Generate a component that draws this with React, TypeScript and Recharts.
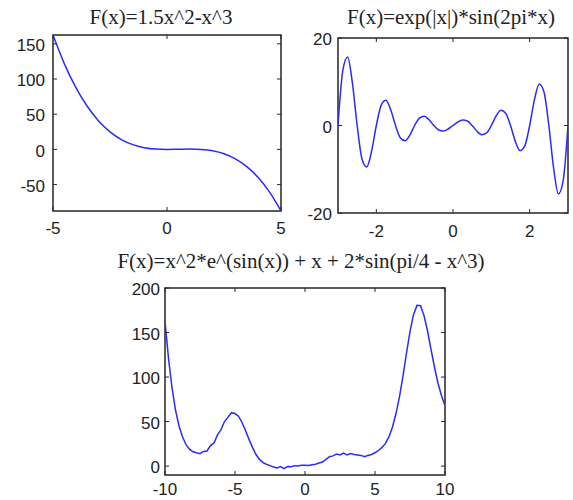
import React from 'react';
import { LineChart, Line, XAxis, YAxis, ReferenceArea } from 'recharts';

// ---------- Panel 1: F(x)=1.5x^2-x^3 ----------
const p1Title = 'F(x)=1.5x^2-x^3';
const p1X = [-5, -4.5, -4, -3.5, -3, -2.5, -2, -1.5, -1, -0.5, 0, 0.5, 1, 1.5, 2, 2.5, 3, 3.5, 4, 4.5, 5];
const p1Y = [162.5, 121.5, 88, 61.25, 40.5, 25, 14, 6.75, 2.5, 0.5, 0, 0.25, 0.5, 0, -2, -6.25, -13.5, -24.5, -40, -60.75, -87.5];
const p1XTicks = [-5, 0, 5];
const p1YTicks = [-50, 0, 50, 100, 150];

// ---------- Panel 2: F(x)=exp(|x|)*sin(2pi*x) ----------
const p2Title = 'F(x)=exp(|x|)*sin(2pi*x)';
const p2X = [
  -3, -2.875, -2.75, -2.625, -2.5, -2.375, -2.25, -2.125, -2, -1.875, -1.75, -1.625, -1.5, -1.375, -1.25, -1.125,
  -1, -0.875, -0.75, -0.625, -0.5, -0.375, -0.25, -0.125, 0, 0.125, 0.25, 0.375, 0.5, 0.625, 0.75, 0.875,
  1, 1.125, 1.25, 1.375, 1.5, 1.625, 1.75, 1.875, 2, 2.125, 2.25, 2.375, 2.5, 2.625, 2.75, 2.875, 3,
];
const p2Y = [
  0, 12.54, 15.64, 9.76, 0, -7.6, -9.49, -5.92, 0, 4.61, 5.76, 3.59, 0, -2.8, -3.49, -2.18,
  0, 1.7, 2.12, 1.32, 0, -1.03, -1.28, -0.8, 0, 0.8, 1.28, 1.03, 0, -1.32, -2.12, -1.7,
  0, 2.18, 3.49, 2.8, 0, -3.59, -5.76, -4.61, 0, 5.92, 9.49, 7.6, 0, -9.76, -15.64, -12.54, 0,
];
const p2XTicks = [-2, 0, 2];
const p2YTicks = [-20, 0, 20];

// ---------- Panel 3: F(x)=x^2*e^(sin(x)) + x + 2*sin(pi/4 - x^3) ----------
const p3Title = 'F(x)=x^2*e^(sin(x)) + x + 2*sin(pi/4 - x^3)';
const p3X = [
  -10, -9.75, -9.5, -9.25, -9, -8.75, -8.5, -8.25, -8, -7.75, -7.5, -7.25, -7, -6.75, -6.5, -6.25,
  -6, -5.75, -5.5, -5.25, -5, -4.75, -4.5, -4.25, -4, -3.75, -3.5, -3.25, -3, -2.75, -2.5, -2.25,
  -2, -1.75, -1.5, -1.25, -1, -0.75, -0.5, -0.25, 0, 0.25, 0.5, 0.75, 1, 1.25, 1.5, 1.75,
  2, 2.25, 2.5, 2.75, 3, 3.25, 3.5, 3.75, 4, 4.25, 4.5, 4.75, 5, 5.25, 5.5, 5.75,
  6, 6.25, 6.5, 6.75, 7, 7.25, 7.5, 7.75, 8, 8.25, 8.5, 8.75, 9, 9.25, 9.5, 9.75, 10,
];
const p3Y = [
  163, 121, 88, 63, 45, 33, 24, 19, 16, 15, 14, 16.5, 17, 23, 26, 35,
  41, 50, 55, 60, 59, 56, 49, 40, 30, 21, 13, 7.5, 4, 2, 0.5, -1,
  -2, -0.5, -2.8, -0.5, -0.8, 0.5, 0.2, 1, 1, 0.8, 1.5, 2, 3.5, 4.5, 7.5, 10.5,
  11.5, 13.5, 12.5, 14.5, 12.5, 14, 13, 12.5, 12, 10.5, 12, 13, 15, 17.5, 21, 25.5,
  33, 44, 59, 78, 101, 127, 151, 170, 180.5, 180, 169, 152, 131, 111, 93, 79, 68,
];
const p3XTicks = [-10, -5, 0, 5, 10];
const p3YTicks = [0, 50, 100, 150, 200];

const LINE = '#2a2aff';
const AXIS = '#262626';
const TICK_FONT = '"Liberation Sans", Arial, sans-serif';
const TITLE_FONT = '"Liberation Serif", "Times New Roman", serif';

type Box = { l: number; t: number; r: number; b: number };

type PanelProps = {
  left: number;
  top: number;
  width: number;
  height: number;
  box: Box;
  xs: number[];
  ys: number[];
  xDomain: [number, number];
  yDomain: [number, number];
  xTicks: number[];
  yTicks: number[];
  curve: 'monotone' | 'linear';
  xLabelDy: number;
  yLabelGap: number;
};

function Panel(p: PanelProps) {
  const { box } = p;
  const data = p.xs.map((x, i) => ({ x, y: p.ys[i] }));
  const xTick = (props: any) => {
    const { x, payload } = props;
    return (
      <g>
        <line x1={x} x2={x} y1={box.b} y2={box.b - 4} stroke={AXIS} strokeWidth={1} />
        <line x1={x} x2={x} y1={box.t} y2={box.t + 4} stroke={AXIS} strokeWidth={1} />
        <text x={x} y={box.b + p.xLabelDy} textAnchor="middle" fontFamily={TICK_FONT} fontSize={17} fill="#222">
          {payload.value}
        </text>
      </g>
    );
  };
  const yTick = (props: any) => {
    const { y, payload } = props;
    return (
      <g>
        <line x1={box.l} x2={box.l + 4} y1={y} y2={y} stroke={AXIS} strokeWidth={1} />
        <line x1={box.r - 4} x2={box.r} y1={y} y2={y} stroke={AXIS} strokeWidth={1} />
        <text x={box.l - p.yLabelGap} y={y + 1} dy="0.36em" textAnchor="end" fontFamily={TICK_FONT} fontSize={17} fill="#222">
          {payload.value}
        </text>
      </g>
    );
  };
  return (
    <div style={{ position: 'absolute', left: p.left, top: p.top }}>
      <LineChart
        width={p.width}
        height={p.height}
        data={data}
        margin={{ top: box.t, right: p.width - box.r, left: 0, bottom: 0 }}
      >
        <XAxis
          type="number"
          dataKey="x"
          domain={p.xDomain}
          ticks={p.xTicks}
          interval={0}
          allowDataOverflow
          axisLine={false}
          tickLine={false}
          tickSize={0}
          tick={xTick}
          height={p.height - box.b}
        />
        <YAxis
          type="number"
          domain={p.yDomain}
          ticks={p.yTicks}
          interval={0}
          allowDataOverflow
          axisLine={false}
          tickLine={false}
          tickSize={0}
          tick={yTick}
          width={box.l}
        />
        <Line
          type={p.curve}
          dataKey="y"
          stroke={LINE}
          strokeWidth={1.5}
          dot={false}
          isAnimationActive={false}
        />
        <ReferenceArea
          x1={p.xDomain[0]}
          x2={p.xDomain[1]}
          y1={p.yDomain[0]}
          y2={p.yDomain[1]}
          fill="none"
          fillOpacity={0}
          stroke={AXIS}
          strokeWidth={1.5}
          ifOverflow="visible"
        />
      </LineChart>
    </div>
  );
}

export default function App() {
  return (
    <div style={{ position: 'absolute', left: 0, top: 0, width: 573, height: 500, background: '#fff' }}>
      <Panel
        left={0}
        top={0}
        width={290}
        height={250}
        box={{ l: 53, t: 35, r: 281, b: 211 }}
        xs={p1X}
        ys={p1Y}
        xDomain={[-5, 5]}
        yDomain={[-87.5, 162.5]}
        xTicks={p1XTicks}
        yTicks={p1YTicks}
        curve="monotone"
        xLabelDy={23}
        yLabelGap={8}
      />
      <Panel
        left={290}
        top={0}
        width={283}
        height={250}
        box={{ l: 48, t: 38, r: 278, b: 213 }}
        xs={p2X}
        ys={p2Y}
        xDomain={[-3, 3]}
        yDomain={[-20, 20]}
        xTicks={p2XTicks}
        yTicks={p2YTicks}
        curve="monotone"
        xLabelDy={24}
        yLabelGap={6}
      />
      <Panel
        left={100}
        top={250}
        width={360}
        height={250}
        box={{ l: 65, t: 38, r: 345, b: 225 }}
        xs={p3X}
        ys={p3Y}
        xDomain={[-10, 10]}
        yDomain={[-10, 200]}
        xTicks={p3XTicks}
        yTicks={p3YTicks}
        curve="linear"
        xLabelDy={20}
        yLabelGap={5}
      />
      <svg width={573} height={500} style={{ position: 'absolute', left: 0, top: 0, pointerEvents: 'none' }}>
        <text x={161} y={24} textAnchor="middle" fontFamily={TITLE_FONT} fontSize={21} fill="#222">{p1Title}</text>
        <text x={451} y={24} textAnchor="middle" fontFamily={TITLE_FONT} fontSize={21} fill="#222">{p2Title}</text>
        <text x={301} y={268} textAnchor="middle" fontFamily={TITLE_FONT} fontSize={21} fill="#222">{p3Title}</text>
      </svg>
    </div>
  );
}
